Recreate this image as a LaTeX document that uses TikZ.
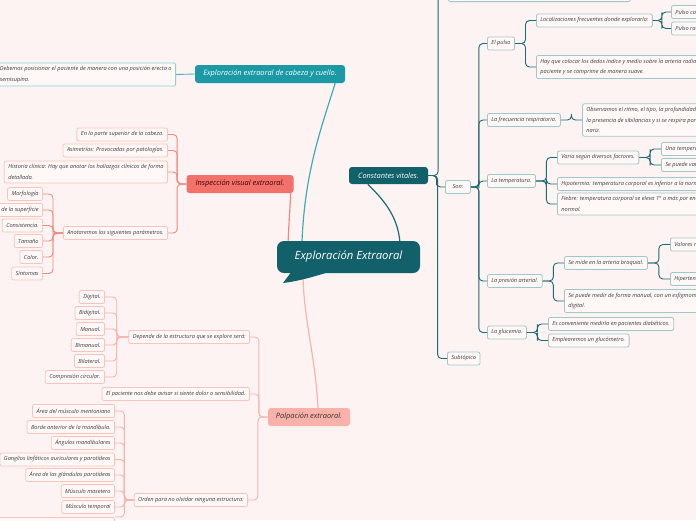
\documentclass[tikz,border=0pt]{standalone}
\usepackage{fontspec}
\setmainfont{Open Sans}
\usetikzlibrary{calc}
\definecolor{bg}{HTML}{FDF3F2}
\definecolor{dteal}{HTML}{12606A}
\definecolor{bteal}{HTML}{1B9AA6}
\definecolor{redc}{HTML}{F2716A}
\definecolor{pinkc}{HTML}{F9B1A9}
\definecolor{redline}{HTML}{F28880}
\definecolor{pinkline}{HTML}{F8B4AD}
\definecolor{pinkborder}{HTML}{F9C4BE}
\definecolor{tealborder}{HTML}{A3C6C9}
\definecolor{tealline}{HTML}{1E6A72}
\definecolor{cabborder}{HTML}{8FD0D6}
\definecolor{cabline}{HTML}{4DB3BD}
\definecolor{txt}{HTML}{3C3C3C}
\definecolor{childfill}{HTML}{FFF8F7}
\newcommand{\mmlink}[3][]{\draw[#1] (#2) -| ($(#2)!.5!(#3)$) |- (#3);}
\tikzset{
  leaf/.style={draw, fill=childfill, rounded corners=2pt, line width=0.8pt, text=txt,
    font=\itshape\fontsize{5.6}{10.5}\selectfont, inner xsep=4pt, inner ysep=3pt,
    minimum height=13pt, align=left},
  ml/.style={inner ysep=3.5pt},
  pleaf/.style={leaf, draw=pinkborder},
  tleaf/.style={leaf, draw=tealborder},
  cleaf/.style={leaf, draw=cabborder},
  mainbox/.style={rounded corners=3pt, font=\itshape\fontsize{7.4}{9}\selectfont,
    inner xsep=4pt, minimum height=18pt},
  tl/.style={draw=tealline, line width=0.9pt, rounded corners=4pt},
  rl/.style={draw=redline, line width=0.9pt, rounded corners=4pt},
  pl/.style={draw=pinkline, line width=0.9pt, rounded corners=4pt},
  cl/.style={draw=cabline, line width=0.9pt, rounded corners=4pt},
}
\begin{document}
\begin{tikzpicture}[x=1pt,y=-1pt]
\useasboundingbox (0,0) rectangle (696,520);
\fill[bg] (0,0) rectangle (696,520);

% ---------- main nodes ----------
\node[mainbox, fill=bteal, text=white, minimum width=150pt] (cab) at (270,74) {Exploración extraoral de cabeza y cuello.};
\node[mainbox, fill=redc, text=black!75!red, minimum width=107pt] (insp) at (240,184) {Inspección visual extraoral.};
\node[mainbox, fill=pinkc, text=black!80, minimum width=82pt] (palp) at (309,417) {Palpación extraoral.};
\node[mainbox, fill=dteal, text=white, minimum width=79pt, minimum height=17pt] (cv) at (388.5,175.5) {Constantes vitales.};

% ---------- main connectors ----------
\draw[cabline!70!bteal, line width=1.2pt] ($(cab.south east)+(-10,0)$) .. controls +(-14,45) and +(3,-70) .. (302,241) coordinate (rc1);
\draw[redline, line width=1.2pt] ($(insp.south east)+(-3,0)$) .. controls +(-1,20) and +(1,-20) .. (288,243) coordinate (rc2);
\draw[pinkline, line width=1.2pt] (303,272) coordinate (rc3) .. controls +(0,45) and +(-3,-55) .. ($(palp.north)+(9,0)$);
\draw[tealline, line width=1.2pt] ($(cv.south west)+(19,0)$) .. controls +(14,14) and +(-2,-28) .. (400,243) coordinate (rc4);

% ---------- central node ----------
\fill[dteal] (292,271) -- (283,283) .. controls (300,281) and (316,276) .. (332,271) -- cycle;
\node[fill=dteal, rounded corners=7pt, minimum width=143pt, minimum height=32pt, text=white,
  font=\itshape\fontsize{11.3}{13}\selectfont] (root) at (348.5,257) {Exploración Extraoral};

% ---------- cabeza y cuello ----------
\node[cleaf, ml, anchor=east] (cab1) at (176,74.5) {Debemos posicionar el paciente de manera con una posición erecta o\\semisupina.};
\draw[cl] (cab.west) -- (cab1.east);

% ---------- inspeccion ----------
\node[pleaf, anchor=east] (i1) at (168,134.5) {En la parte superior de la cabeza.};
\node[pleaf, anchor=east] (i2) at (168,150.5) {Asimetrías: Provocadas por patologías.};
\node[pleaf, ml, anchor=east] (i3) at (168,172) {Historia clínica: Hay que anotar los hallazgos clínicos de forma\\detallada.};
\node[pleaf, anchor=east] (i4) at (168,233) {Anotaremos los siguientes parámetros.};
\foreach \c in {i1,i2,i3,i4} {\mmlink[rl]{insp.west}{\c.east}}
\node[pleaf, anchor=east] (a1) at (43,194) {Morfología};
\node[pleaf, anchor=east] (a2) at (43,210) {Textura de la superficie};
\node[pleaf, anchor=east] (a3) at (43,225.5) {Consistencia.};
\node[pleaf, anchor=east] (a4) at (43,241) {Tamaño};
\node[pleaf, anchor=east] (a5) at (43,257) {Color.};
\node[pleaf, anchor=east] (a6) at (43,273.5) {Síntomas};
\foreach \c in {a1,a2,a3,a4,a5,a6} {\mmlink[rl]{i4.west}{\c.east}}

% ---------- palpacion ----------
\node[pleaf, anchor=east] (d) at (250,337) {Depende de la estructura que se explore será:};
\node[pleaf, anchor=east] (e) at (250,394) {El paciente nos debe avisar si siente dolor o sensibilidad.};
\node[pleaf, anchor=east] (o) at (248,500) {Orden para no olvidar ninguna estructura:};
\foreach \c in {d,e,o} {\mmlink[pl]{palp.west}{\c.east}}
\node[pleaf, anchor=east] (d1) at (105,297) {Digital.};
\node[pleaf, anchor=east] (d2) at (105,313) {Bidigital.};
\node[pleaf, anchor=east] (d3) at (105,329) {Manual.};
\node[pleaf, anchor=east] (d4) at (105,345) {Bimanual.};
\node[pleaf, anchor=east] (d5) at (105,361) {Bilateral.};
\node[pleaf, anchor=east] (d6) at (105,377) {Compresión circular.};
\foreach \c in {d1,d2,d3,d4,d5,d6} {\mmlink[pl]{d.west}{\c.east}}
\node[pleaf, anchor=east] (o1) at (115,411) {Área del músculo mentoniano};
\node[pleaf, anchor=east] (o2) at (115,427) {Borde anterior de la mandíbula.};
\node[pleaf, anchor=east] (o3) at (115,443) {Ángulos mandibulares};
\node[pleaf, anchor=east] (o4) at (115,459.5) {Ganglios linfáticos auriculares y parotídeos};
\node[pleaf, anchor=east] (o5) at (115,475) {Área de las glándulas parotídeas};
\node[pleaf, anchor=east] (o6) at (115,491) {Músculo masetero};
\node[pleaf, anchor=east] (o7) at (115,507) {Músculo temporal};
\node[pleaf, anchor=north east, minimum width=120pt] (o8) at (115,517) {};
\foreach \c in {o1,o2,o3,o4,o5,o6,o7} {\mmlink[pl]{o.west}{\c.east}}
\mmlink[pl]{o.west}{o8.north east}

% ---------- constantes vitales ----------
\node[tleaf, minimum width=182pt, minimum height=24pt, anchor=south west] (top) at (448,2) {};
\node[tleaf, anchor=west, minimum width=25pt] (son) at (445,187) {Son:};
\node[tleaf, anchor=west] (subt) at (447,358.5) {Subtópico};
\foreach \c in {top,son,subt} {\mmlink[tl]{cv.east}{\c.west}}

\node[tleaf, anchor=west] (pulso) at (487,43.5) {El pulso};
\node[tleaf, anchor=west] (freq) at (487,120) {La frecuencia respiratoria.};
\node[tleaf, anchor=west] (temp) at (487,181) {La temperatura.};
\node[tleaf, anchor=west] (pres) at (487,281) {La presión arterial.};
\node[tleaf, anchor=west] (gluc) at (487,332.5) {La glucemia.};
\foreach \c in {pulso,freq,temp,pres,gluc} {\mmlink[tl]{son.east}{\c.west}}

\node[tleaf, anchor=west] (loc) at (536,20.5) {Localizaciones frecuentes donde explorarlo:};
\node[tleaf, ml, anchor=west] (hay) at (536,67) {Hay que colocar los dedos índice y medio sobre la arteria radial del\\paciente y se comprime de manera suave.};
\foreach \c in {loc,hay} {\mmlink[tl]{pulso.east}{\c.west}}
\node[tleaf, anchor=west] (pc) at (671,12) {Pulso carotídeo.};
\node[tleaf, anchor=west] (pr) at (671,28.5) {Pulso radial.};
\foreach \c in {pc,pr} {\mmlink[tl]{loc.east}{\c.west}}

\node[tleaf, ml, anchor=west] (obs) at (582,120) {Observamos el ritmo, el tipo, la profundidad, la simetría,\\la presencia de sibilancias y si se respira por la boca o\\nariz.};
\mmlink[tl]{freq.east}{obs.west}

\node[tleaf, anchor=west] (var) at (557,157.5) {Varía según diversos factores.};
\node[tleaf, anchor=west] (hipo) at (557,184) {Hipotermia: temperatura corporal es inferior a la normal.};
\node[tleaf, ml, anchor=west] (fie) at (557,204) {Fiebre: temperatura corporal se eleva 1° o más por encima de lo\\normal.};
\foreach \c in {var,hipo,fie} {\mmlink[tl]{temp.east}{\c.west}}
\node[tleaf, anchor=west] (una) at (661,149) {Una temperatura normal.};
\node[tleaf, anchor=west] (sev) at (661,165) {Se puede variar.};
\foreach \c in {una,sev} {\mmlink[tl]{var.east}{\c.west}}

\node[tleaf, anchor=west] (mide) at (564,263) {Se mide en la arteria braquial.};
\node[tleaf, ml, anchor=west] (med) at (564,301) {Se puede medir de forma manual, con un esfigmomanómetro o\\digital.};
\foreach \c in {mide,med} {\mmlink[tl]{pres.east}{\c.west}}
\node[tleaf, anchor=west] (val) at (670,244.5) {Valores normales.};
\node[tleaf, anchor=west] (hip) at (670,279) {Hipertensión.};
\foreach \c in {val,hip} {\mmlink[tl]{mide.east}{\c.west}}

\node[tleaf, anchor=west] (es) at (548,324) {Es conveniente medirla en pacientes diabéticos.};
\node[tleaf, anchor=west] (emp) at (548,340.5) {Emplearemos un glucómetro.};
\foreach \c in {es,emp} {\mmlink[tl]{gluc.east}{\c.west}}
\end{tikzpicture}
\end{document}
